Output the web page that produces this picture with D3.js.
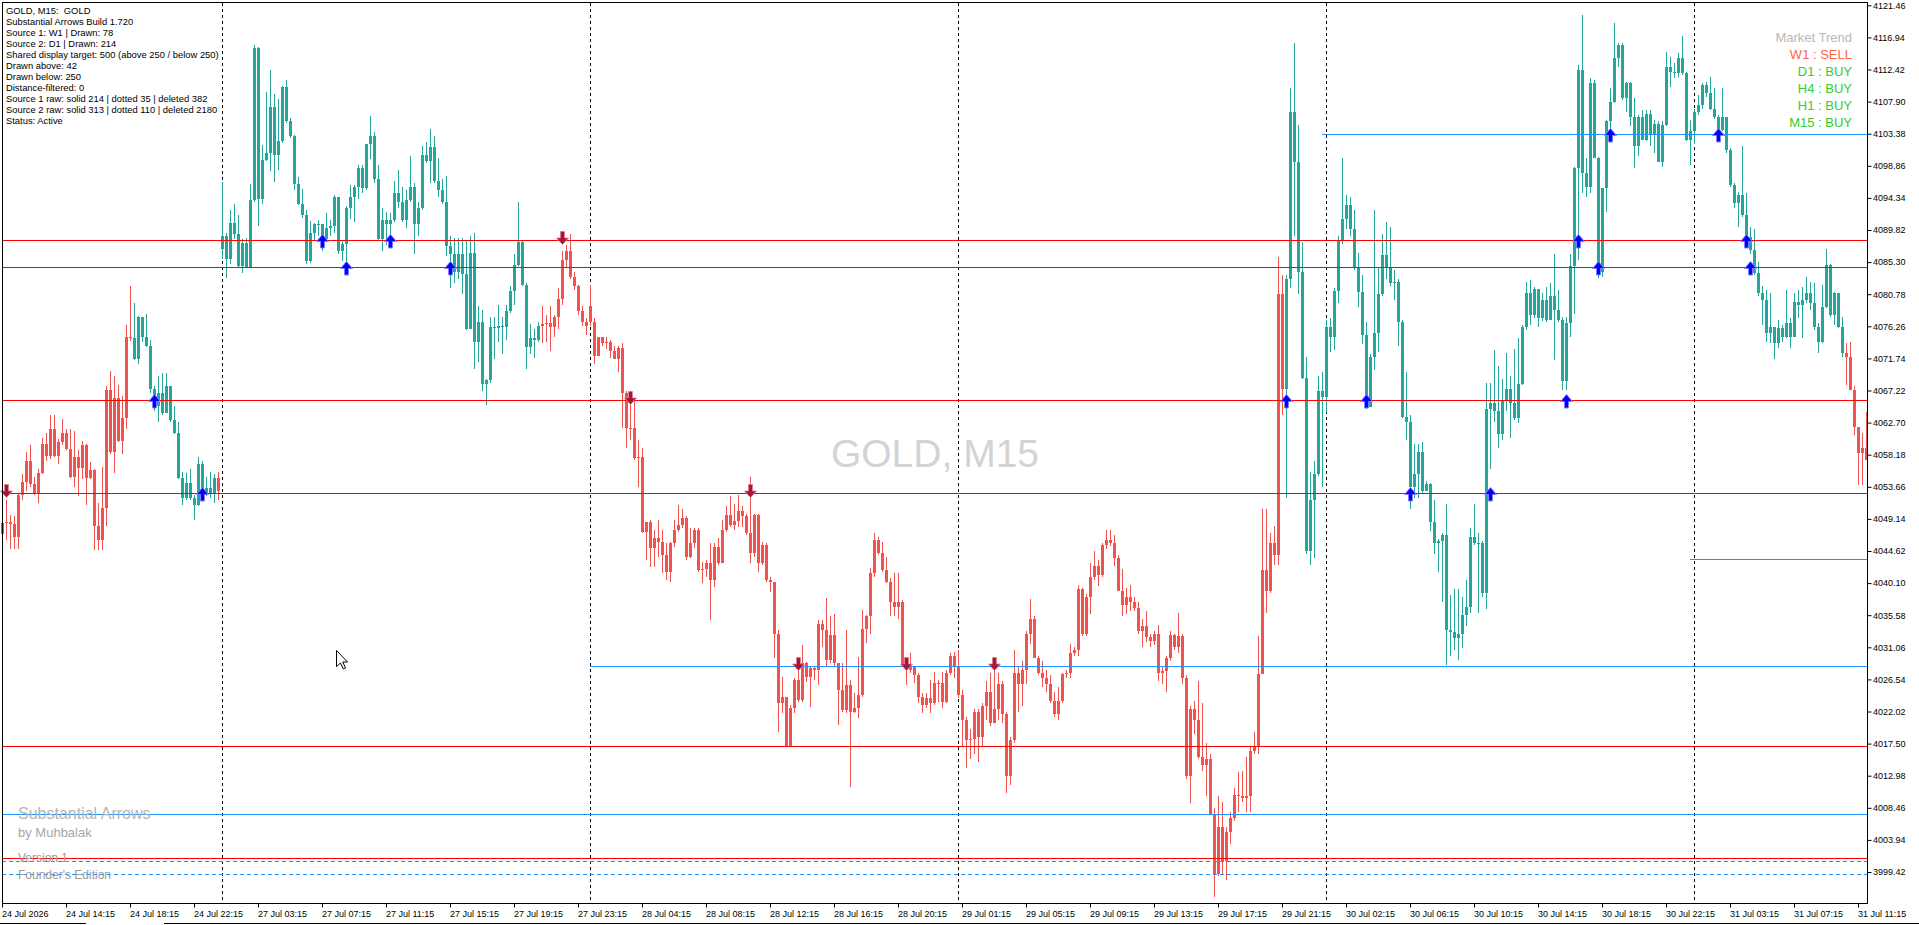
<!DOCTYPE html>
<html>
<head>
<meta charset="utf-8">
<script src="https://cdnjs.cloudflare.com/ajax/libs/d3/7.8.5/d3.min.js"></script>
<style>
  body { margin: 0; background: #fff; overflow: hidden; }
  svg { display: block; }
</style>
</head>
<body>
<div id="mainContainer"></div>
<script>
// GOLD M15 candles, bar 0 = 24 Jul 10:15, open = previous close unless listed in gapOpens
var closes = [
  4048.5,4048.7,4048.4,4046.6,4052.5,4054.4,4057.3,4054.0,4052.8,4055.6,
  4059.7,4058.0,4061.8,4058.0,4060.0,4061.3,4059.0,4055.1,4057.8,4056.3,
  4059.5,4054.9,4056.0,4048.1,4046.2,4050.7,4067.3,4058.5,4066.1,4060.1,
  4063.3,4074.7,4074.6,4071.6,4077.5,4074.7,4073.5,4067.5,4065.0,4066.8,
  4064.0,4067.8,4063.1,4061.3,4054.9,4052.1,4054.2,4052.1,4051.1,4056.9,
  4052.5,4053.5,4052.8,4054.9,4053.0,4089.0,4085.7,4090.8,4089.2,4084.7,
  4088.0,4084.6,4094.0,4115.4,4094.2,4099.7,4100.7,4107.1,4100.4,4102.3,
  4109.9,4105.1,4103.0,4096.3,4093.5,4091.9,4085.4,4089.4,4090.6,4090.7,
  4088.6,4090.1,4090.4,4094.4,4086.9,4087.9,4092.9,4094.4,4095.9,4098.5,
  4095.7,4102.0,4103.0,4097.0,4088.6,4091.2,4090.7,4091.2,4095.0,4093.7,
  4091.2,4094.0,4095.9,4090.7,4092.9,4100.4,4099.5,4101.5,4096.7,4095.5,
  4093.7,4087.5,4086.4,4083.9,4086.4,4083.6,4075.9,4086.6,4074.1,4076.9,
  4068.1,4068.7,4076.1,4076.0,4076.3,4076.1,4078.4,4081.3,4084.9,4088.2,
  4082.1,4073.3,4074.6,4074.4,4076.3,4076.6,4076.7,4076.1,4077.6,4080.1,
  4085.6,4086.9,4083.2,4081.9,4078.4,4076.9,4076.3,4076.9,4072.1,4074.8,
  4073.9,4074.1,4072.8,4071.7,4073.2,4066.8,4062.0,4061.9,4057.7,4057.8,
  4047.3,4048.7,4045.0,4046.4,4045.9,4044.1,4041.7,4045.7,4047.6,4048.3,
  4049.2,4043.8,4045.7,4047.6,4041.9,4042.1,4042.9,4040.5,4045.2,4042.9,
  4047.6,4049.7,4048.3,4048.8,4050.2,4049.5,4047.1,4044.3,4049.7,4042.9,
  4045.5,4040.5,4040.3,4033.0,4023.2,4024.1,4017.1,4022.5,4026.5,4023.6,
  4028.8,4026.9,4028.1,4027.9,4034.4,4033.5,4029.3,4032.8,4028.8,4025.1,
  4022.2,4025.8,4022.0,4022.5,4024.3,4033.7,4035.4,4041.5,4046.2,4044.3,
  4041.9,4040.3,4037.5,4036.8,4037.5,4028.6,4027.9,4028.4,4027.2,4024.1,
  4022.9,4023.9,4023.2,4026.0,4026.1,4023.4,4027.4,4029.9,4028.3,4024.3,
  4020.8,4018.0,4018.2,4022.0,4018.4,4022.8,4024.7,4020.4,4022.4,4025.9,
  4021.6,4012.9,4018.0,4027.5,4025.9,4027.9,4033.0,4035.0,4029.5,4027.5,
  4026.7,4025.9,4023.5,4021.6,4023.5,4027.3,4027.5,4030.3,4030.7,4039.3,
  4033.0,4038.2,4040.9,4042.5,4041.3,4045.4,4046.1,4045.7,4043.7,4039.0,
  4037.0,4038.2,4037.4,4036.6,4033.4,4034.1,4032.5,4032.0,4033.0,4027.5,
  4027.7,4029.5,4032.8,4031.1,4032.6,4026.7,4012.9,4022.4,4020.8,4015.6,
  4014.5,4015.3,4007.4,3999.1,4005.8,4001.0,4005.0,4007.0,4010.3,4010.1,
  4009.9,4010.1,4016.4,4017.0,4027.3,4042.0,4039.0,4045.7,4044.0,4080.8,
  4067.4,4082.9,4106.4,4099.4,4083.9,4069.0,4044.6,4051.8,4055.5,4067.1,
  4066.3,4076.2,4074.7,4081.2,4088.4,4091.4,4093.3,4090.0,4084.5,4081.1,
  4075.0,4064.9,4072.0,4075.3,4080.8,4086.3,4084.5,4082.3,4082.5,4076.8,
  4063.5,4062.8,4053.6,4055.5,4058.6,4053.0,4054.1,4048.7,4045.8,4046.0,
  4046.9,4033.5,4033.2,4032.3,4032.9,4035.6,4036.7,4046.6,4045.7,4045.8,
  4038.7,4064.6,4065.5,4064.3,4061.1,4065.9,4067.5,4065.4,4063.3,4068.2,
  4076.2,4080.9,4077.8,4081.5,4077.4,4079.9,4077.1,4080.5,4078.6,4077.1,
  4068.5,4076.7,4084.7,4098.5,4112.4,4097.8,4095.9,4110.5,4099.9,4083.9,
  4095.7,4105.1,4107.9,4114.0,4115.9,4108.4,4110.5,4105.8,4101.6,4105.8,
  4102.5,4106.2,4103.4,4104.8,4099.4,4104.6,4112.8,4112.1,4111.9,4114.0,
  4111.9,4102.5,4103.7,4106.5,4107.4,4110.2,4109.1,4106.9,4105.8,4103.9,
  4105.8,4101.1,4096.1,4093.6,4094.7,4091.9,4088.9,4087.0,4083.8,4081.0,
  4079.9,4075.3,4076.2,4073.9,4076.0,4074.8,4076.7,4074.8,4079.7,4079.3,
  4080.0,4080.9,4079.5,4076.2,4074.1,4079.0,4084.9,4077.8,4080.9,4076.2,
  4072.5,4072.0,4067.3,4062.1,4058.4,4059.1,4057.4
];
var highs = [
  4048.8,4051.8,4049.7,4049.5,4052.8,4055.4,4058.5,4059.5,4055.1,4056.1,
  4060.6,4061.3,4063.7,4063.7,4060.4,4063.2,4061.8,4061.8,4061.5,4058.8,
  4060.1,4059.7,4057.1,4056.1,4051.4,4056.5,4067.8,4069.9,4069.2,4068.0,
  4066.4,4076.5,4081.9,4079.6,4077.7,4077.5,4078.0,4074.3,4067.8,4069.2,
  4069.7,4069.7,4067.1,4065.0,4062.8,4055.8,4055.6,4056.1,4052.5,4057.8,
  4057.3,4055.1,4055.8,4055.4,4055.8,4096.6,4089.4,4092.6,4093.5,4091.9,
  4088.5,4088.7,4096.3,4115.9,4115.6,4101.8,4109.2,4112.3,4109.0,4108.3,
  4110.1,4110.9,4105.6,4103.2,4097.3,4095.6,4092.6,4091.1,4090.8,4091.2,
  4090.5,4092.2,4091.2,4094.7,4094.4,4088.4,4093.2,4096.2,4096.2,4099.0,
  4099.0,4102.0,4105.9,4103.6,4099.0,4092.9,4092.4,4092.2,4096.7,4098.2,
  4095.9,4095.5,4100.2,4096.5,4093.7,4101.7,4102.2,4104.0,4103.1,4100.0,
  4097.0,4097.4,4089.0,4088.7,4088.7,4088.7,4088.4,4089.0,4089.4,4079.1,
  4078.6,4068.8,4077.6,4077.6,4079.3,4077.6,4079.3,4081.9,4086.4,4093.7,
  4088.4,4082.4,4076.6,4075.9,4076.9,4079.1,4077.8,4079.1,4077.8,4081.7,
  4086.9,4087.7,4089.2,4083.9,4082.1,4079.1,4077.4,4082.1,4077.4,4074.8,
  4074.8,4074.8,4074.4,4073.5,4073.5,4073.9,4067.1,4067.1,4065.9,4060.3,
  4059.1,4048.7,4049.0,4047.6,4049.0,4047.6,4045.7,4045.9,4049.0,4051.1,
  4050.6,4049.5,4047.8,4047.8,4047.8,4043.1,4043.4,4045.7,4045.7,4046.4,
  4049.0,4050.9,4052.3,4051.3,4052.5,4050.9,4049.9,4055.1,4049.9,4049.9,
  4045.9,4045.7,4041.0,4040.3,4033.5,4026.9,4023.9,4022.9,4026.7,4028.8,
  4031.4,4029.0,4028.3,4028.3,4034.9,4034.9,4038.0,4035.4,4035.8,4028.8,
  4028.8,4033.5,4026.5,4024.6,4029.7,4036.3,4035.6,4042.2,4047.1,4046.6,
  4045.9,4043.8,4040.8,4041.5,4041.5,4037.7,4029.3,4030.2,4028.3,4027.4,
  4024.6,4024.6,4026.5,4027.6,4026.5,4027.6,4027.9,4030.3,4030.4,4030.7,
  4025.1,4021.2,4019.6,4022.4,4022.4,4023.2,4026.3,4027.5,4029.1,4027.5,
  4026.3,4022.0,4018.4,4030.7,4028.3,4029.1,4033.4,4037.8,4035.4,4029.9,
  4029.1,4027.9,4027.1,4024.7,4025.5,4027.5,4027.9,4031.5,4031.1,4039.8,
  4039.4,4038.6,4042.9,4044.6,4043.3,4045.7,4047.6,4047.6,4046.9,4044.1,
  4042.1,4039.4,4039.8,4038.2,4037.4,4035.0,4036.2,4033.0,4033.4,4034.2,
  4028.3,4029.9,4033.4,4033.0,4035.9,4033.0,4027.1,4022.8,4023.5,4026.3,
  4023.2,4017.6,4016.1,4008.5,4010.1,4009.3,4005.8,4007.8,4011.3,4013.5,
  4013.7,4015.6,4017.2,4019.2,4032.6,4050.6,4050.6,4047.2,4048.1,4086.0,
  4083.5,4083.5,4109.8,4116.2,4104.6,4088.1,4072.0,4055.8,4057.3,4069.2,
  4069.8,4077.1,4077.4,4081.7,4089.0,4100.0,4094.8,4094.4,4092.7,4086.6,
  4083.5,4076.8,4072.3,4092.7,4084.5,4089.3,4090.9,4090.3,4084.2,4082.9,
  4077.1,4069.8,4063.7,4059.7,4059.7,4060.0,4054.5,4054.2,4051.8,4046.3,
  4047.2,4051.2,4038.4,4039.3,4039.3,4038.1,4040.5,4047.8,4051.2,4047.2,
  4046.0,4068.3,4068.3,4072.9,4070.7,4068.9,4072.5,4069.2,4073.0,4074.6,
  4076.4,4082.5,4082.8,4081.8,4081.4,4081.0,4081.8,4082.3,4086.5,4081.4,
  4077.6,4077.6,4086.5,4098.7,4113.0,4120.1,4099.9,4111.2,4110.9,4100.1,
  4095.7,4105.3,4109.8,4118.9,4116.1,4116.1,4110.7,4110.7,4108.4,4106.0,
  4106.7,4106.7,4106.7,4105.3,4105.1,4105.1,4114.9,4114.2,4113.3,4114.7,
  4117.1,4112.1,4105.3,4106.9,4108.8,4110.5,4110.7,4111.4,4109.8,4106.0,
  4109.8,4105.8,4101.3,4096.4,4095.2,4101.6,4095.0,4090.3,4090.0,4085.3,
  4082.0,4081.4,4080.9,4076.2,4077.1,4076.4,4081.4,4077.4,4080.9,4081.4,
  4081.8,4083.2,4082.5,4082.3,4076.7,4082.1,4087.2,4085.1,4081.1,4080.0,
  4077.6,4073.9,4074.1,4067.8,4062.1,4061.2,4064.2
];
var lows = [
  4045.4,4046.1,4044.9,4044.9,4044.9,4051.8,4053.0,4053.7,4052.5,4051.4,
  4055.4,4057.3,4057.6,4057.8,4056.9,4059.5,4058.8,4054.9,4053.7,4052.3,
  4054.7,4051.1,4054.7,4044.7,4044.7,4044.7,4048.1,4058.3,4055.6,4059.9,
  4058.3,4061.8,4074.2,4071.5,4070.9,4074.0,4073.4,4066.8,4064.3,4062.8,
  4063.8,4066.1,4062.8,4061.1,4054.7,4051.1,4051.8,4051.8,4049.0,4051.0,
  4051.8,4052.3,4052.1,4051.4,4051.8,4085.7,4083.1,4085.0,4088.5,4084.5,
  4083.8,4084.5,4088.0,4093.7,4090.4,4093.5,4099.5,4098.1,4096.6,4098.3,
  4102.1,4104.9,4102.8,4095.4,4093.3,4091.5,4085.0,4085.2,4088.3,4089.0,
  4086.9,4089.0,4089.0,4089.4,4086.4,4085.4,4085.4,4091.4,4090.9,4094.2,
  4095.0,4095.5,4099.8,4096.5,4088.4,4086.9,4087.7,4087.7,4090.9,4092.9,
  4090.9,4090.1,4093.7,4086.4,4089.0,4092.7,4099.3,4096.5,4096.5,4094.4,
  4093.5,4086.2,4081.7,4082.4,4082.9,4080.8,4075.8,4075.9,4070.3,4071.3,
  4067.1,4065.2,4068.3,4071.6,4074.1,4072.4,4074.3,4078.1,4079.3,4084.7,
  4081.9,4070.3,4072.4,4071.8,4074.1,4073.9,4074.1,4072.8,4074.8,4075.9,
  4079.3,4084.4,4082.9,4081.4,4077.8,4076.3,4075.1,4076.3,4070.9,4072.1,
  4073.5,4073.1,4071.8,4071.6,4069.8,4061.9,4059.1,4060.3,4057.4,4053.7,
  4047.1,4043.4,4042.4,4042.4,4043.8,4041.5,4040.5,4040.3,4045.2,4047.3,
  4047.8,4043.4,4043.6,4045.0,4041.7,4040.1,4041.0,4034.9,4039.6,4042.7,
  4043.8,4047.3,4048.0,4047.6,4048.0,4048.0,4046.9,4042.9,4043.8,4041.7,
  4042.7,4040.3,4038.9,4029.5,4019.2,4021.8,4017.1,4017.1,4021.8,4023.4,
  4023.4,4026.2,4022.7,4026.5,4025.8,4031.1,4028.3,4028.8,4028.3,4020.1,
  4022.0,4021.8,4011.4,4021.8,4021.1,4024.1,4031.6,4033.0,4041.0,4044.1,
  4041.7,4040.1,4035.4,4035.4,4035.1,4028.3,4025.8,4027.4,4026.0,4023.2,
  4021.8,4022.5,4021.8,4022.9,4023.4,4022.5,4023.2,4027.1,4026.7,4023.9,
  4017.2,4014.1,4015.3,4016.1,4014.9,4017.2,4020.8,4020.0,4020.4,4020.8,
  4020.4,4010.5,4011.7,4017.6,4022.0,4022.8,4025.9,4031.5,4029.5,4027.1,
  4025.5,4024.7,4023.2,4021.2,4020.8,4023.2,4026.7,4026.7,4029.9,4029.9,
  4032.6,4032.6,4035.8,4040.5,4039.7,4040.9,4044.9,4045.3,4042.5,4039.0,
  4035.4,4035.8,4036.2,4036.2,4033.0,4031.1,4031.8,4031.1,4031.4,4026.3,
  4025.9,4024.7,4029.1,4030.7,4030.3,4025.9,4012.5,4009.1,4018.8,4015.3,
  4013.7,4010.1,4007.4,3995.9,3998.8,3999.1,3998.3,4003.4,4006.6,4007.8,
  4009.3,4007.8,4007.8,4016.1,4016.1,4027.4,4035.9,4038.7,4042.6,4042.6,
  4063.7,4052.1,4081.7,4089.0,4080.8,4068.9,4044.2,4042.6,4043.6,4055.2,
  4053.6,4064.0,4072.6,4072.9,4079.6,4087.8,4090.0,4089.0,4084.2,4079.0,
  4073.8,4064.6,4064.9,4070.1,4072.6,4080.5,4082.9,4082.0,4079.9,4073.5,
  4063.4,4060.3,4050.6,4052.1,4052.1,4052.7,4053.6,4047.5,4044.2,4041.7,
  4037.5,4028.5,4029.8,4030.7,4029.3,4031.0,4034.1,4035.9,4045.4,4035.9,
  4038.1,4036.5,4056.1,4062.8,4059.1,4060.2,4064.3,4060.5,4063.1,4062.6,
  4068.0,4075.8,4076.4,4077.4,4076.2,4077.0,4076.9,4078.5,4071.5,4076.9,
  4067.3,4067.3,4074.8,4078.0,4085.6,4095.0,4094.5,4095.0,4099.9,4083.0,
  4083.2,4092.4,4103.4,4107.7,4112.8,4108.1,4106.5,4104.4,4098.5,4100.2,
  4102.5,4102.3,4101.6,4100.6,4099.4,4098.7,4104.4,4110.0,4111.2,4111.4,
  4111.6,4102.3,4099.0,4102.0,4106.0,4106.9,4108.6,4106.7,4105.5,4102.5,
  4103.7,4100.6,4095.9,4092.9,4090.3,4091.7,4088.4,4086.5,4083.5,4080.5,
  4076.5,4074.1,4073.9,4071.7,4073.2,4074.1,4074.6,4073.2,4076.2,4077.4,
  4074.6,4079.5,4078.5,4075.7,4072.5,4073.9,4078.8,4077.6,4076.4,4076.0,
  4072.0,4068.0,4067.3,4060.9,4053.9,4053.9,4057.4
];
var gapOpens = new Map([[0, 4047.0], [55, 4087.1], [147, 4079.1]]);

// trend colouring of the candles (bar where each run starts)
var trendStarts = [0, 33, 54, 55, 135, 321, 461];
var trendSides = ["sell", "buy", "sell", "buy", "sell", "buy", "sell"];

var priceTicks = [4121.46,4116.94,4112.42,4107.90,4103.38,4098.86,4094.34,4089.82,4085.30,
  4080.78,4076.26,4071.74,4067.22,4062.70,4058.18,4053.66,4049.14,4044.62,4040.10,4035.58,
  4031.06,4026.54,4022.02,4017.50,4012.98,4008.46,4003.94,3999.42];
var timeTickBars = [0,16,32,48,64,80,96,112,128,144,160,176,192,208,224,240,256,272,288,304,
  320,336,352,368,384,400,416,432,448,464];
var timeLabels = ["24 Jul 2026","24 Jul 14:15","24 Jul 18:15","24 Jul 22:15","27 Jul 03:15",
  "27 Jul 07:15","27 Jul 11:15","27 Jul 15:15","27 Jul 19:15","27 Jul 23:15","28 Jul 04:15",
  "28 Jul 08:15","28 Jul 12:15","28 Jul 16:15","28 Jul 20:15","29 Jul 01:15","29 Jul 05:15",
  "29 Jul 09:15","29 Jul 13:15","29 Jul 17:15","29 Jul 21:15","30 Jul 02:15","30 Jul 06:15",
  "30 Jul 10:15","30 Jul 14:15","30 Jul 18:15","30 Jul 22:15","31 Jul 03:15","31 Jul 07:15",
  "31 Jul 11:15"];
var daySepBars = [55, 147, 239, 331, 423];

// levels drawn by the indicator
var redLevels = [4088.41, 4084.65, 4065.88, 4052.74, 4017.12, 4001.35];
var blueLevels = [4103.38, 4043.49, 4028.38, 4007.59];
var blueStartBars = [330, 422, 147, 0];
var blueDashedLevels = [4000.97, 3999.10];

var upArrowBars = [38, 50, 80, 86, 97, 112, 321, 341, 352, 372, 391, 394, 399, 402, 429, 436, 437];
var upArrowPrices = [4065.88, 4052.74, 4088.41, 4084.65, 4088.41, 4084.65, 4065.88, 4065.88, 4052.74,
  4052.74, 4065.88, 4088.41, 4084.65, 4103.38, 4103.38, 4088.41, 4084.65];
var downArrowBars = [1, 140, 157, 187, 199, 226, 248];
var downArrowPrices = [4052.74, 4088.41, 4065.88, 4052.74, 4028.38, 4028.38, 4028.38];

var infoLines = ["GOLD, M15:  GOLD", "Substantial Arrows Build 1.720", "Source 1: W1 | Drawn: 78",
  "Source 2: D1 | Drawn: 214", "Shared display target: 500 (above 250 / below 250)",
  "Drawn above: 42", "Drawn below: 250", "Distance-filtered: 0",
  "Source 1 raw: solid 214 | dotted 35 | deleted 382",
  "Source 2 raw: solid 313 | dotted 110 | deleted 2180", "Status: Active"];
var trendLabels = ["Market Trend", "W1 : SELL", "D1 : BUY", "H4 : BUY", "H1 : BUY", "M15 : BUY"];
var trendLabelSides = ["title", "sell", "buy", "buy", "buy", "buy"];
var brandLines = ["Substantial Arrows", "by Muhbalak", "Version 1", "Founder's Edition"];

var W = 1919, H = 925;
var plotRight = 1867, plotBottom = 903;
var upColor = "#26a69a", downColor = "#ef5350";
var axisFont = "'Liberation Sans', Arial, sans-serif";

var svg = d3.select("#mainContainer").append("svg")
    .attr("width", W)
    .attr("height", H)
    .style("background", "#fff");

var xscale = d3.scaleLinear().domain([0, 466]).range([2, 1866]);
var yscale = d3.scaleLinear().domain([3999.42, 4121.46]).range([872, 5.3]);

function sideOf(i) {
    return trendSides[d3.bisectRight(trendStarts, i) - 1];
}
function openOf(i) {
    if (gapOpens.has(i)) return gapOpens.get(i);
    return closes[i - 1];
}

// watermark
svg.append("text")
    .attr("x", 935)
    .attr("y", 467)
    .attr("text-anchor", "middle")
    .attr("font-family", axisFont)
    .attr("font-size", "39px")
    .attr("fill", "#d3d3d3")
    .text("GOLD, M15");

// day separators
svg.append("g").selectAll("line")
    .data(daySepBars)
    .enter().append("line")
    .attr("x1", function(d) { return Math.round(xscale(d)) + 0.5; })
    .attr("x2", function(d) { return Math.round(xscale(d)) + 0.5; })
    .attr("y1", 3)
    .attr("y2", plotBottom)
    .attr("stroke", "#000")
    .attr("stroke-width", 1)
    .attr("stroke-dasharray", "3,3");

// candles
var candles = svg.append("g");
closes.forEach(function(c, i) {
    var o = openOf(i);
    var cx = Math.round(xscale(i));
    var col = sideOf(i) === "buy" ? upColor : downColor;
    var top = Math.round(yscale(Math.max(o, c)));
    var bot = Math.round(yscale(Math.min(o, c)));
    var hi = Math.round(yscale(Math.max(highs[i], o, c)));
    var lo = Math.round(yscale(Math.min(lows[i], o, c)));
    candles.append("rect")
        .attr("x", cx)
        .attr("y", hi)
        .attr("width", 1)
        .attr("height", Math.max(1, lo - hi))
        .attr("fill", col);
    candles.append("rect")
        .attr("x", cx - 1)
        .attr("y", top)
        .attr("width", 3)
        .attr("height", Math.max(1, bot - top))
        .attr("fill", col);
});

// horizontal levels
var levels = svg.append("g");
redLevels.forEach(function(p) {
    var y = Math.round(yscale(p)) + 0.5;
    levels.append("line")
        .attr("x1", 2).attr("x2", plotRight)
        .attr("y1", y).attr("y2", y)
        .attr("stroke", "#ff0000").attr("stroke-width", 1);
});
blueLevels.forEach(function(p, i) {
    var y = Math.round(yscale(p)) + 0.5;
    levels.append("line")
        .attr("x1", blueStartBars[i] === 0 ? 2 : xscale(blueStartBars[i])).attr("x2", plotRight)
        .attr("y1", y).attr("y2", y)
        .attr("stroke", "#1e90ff").attr("stroke-width", 1);
});
blueDashedLevels.forEach(function(p) {
    var y = Math.round(yscale(p)) + 0.5;
    levels.append("line")
        .attr("x1", 2).attr("x2", plotRight)
        .attr("y1", y).attr("y2", y)
        .attr("stroke", "#1e90ff").attr("stroke-width", 1)
        .attr("stroke-dasharray", "4,3");
});

// arrows (wingdings-like, 12px wide)
var arrows = svg.append("g");
upArrowBars.forEach(function(b, i) {
    var cx = Math.round(xscale(b)) + 0.5;
    var y = Math.round(yscale(upArrowPrices[i]));
    arrows.append("path")
        .attr("d", "M" + (cx - 6) + "," + (y + 1.5) + "L" + cx + "," + (y - 5.5) + "L" + (cx + 6) + "," + (y + 1.5) +
            "L" + (cx + 2) + "," + (y + 1.5) + "L" + (cx + 2) + "," + (y + 8) + "L" + (cx - 2) + "," + (y + 8) +
            "L" + (cx - 2) + "," + (y + 1.5) + "Z")
        .attr("fill", "#0000ff")
        .attr("stroke", "#8080ff")
        .attr("stroke-width", 1)
        .attr("stroke-linejoin", "miter");
});
downArrowBars.forEach(function(b, i) {
    var cx = Math.round(xscale(b)) + 0.5;
    var y = Math.round(yscale(downArrowPrices[i]));
    arrows.append("path")
        .attr("d", "M" + (cx - 2) + "," + (y - 8.5) + "L" + (cx + 2) + "," + (y - 8.5) + "L" + (cx + 2) + "," + (y - 2) +
            "L" + (cx + 6) + "," + (y - 2) + "L" + cx + "," + (y + 4.5) + "L" + (cx - 6) + "," + (y - 2) +
            "L" + (cx - 2) + "," + (y - 2) + "Z")
        .attr("fill", "#a8143a")
        .attr("stroke", "#d9808f")
        .attr("stroke-width", 0.8);
});

// frame
svg.append("rect")
    .attr("x", 2.5).attr("y", 2.5)
    .attr("width", plotRight - 2)
    .attr("height", plotBottom - 2)
    .attr("fill", "none")
    .attr("stroke", "#000")
    .attr("stroke-width", 1);

// price axis
var yAxis = svg.append("g")
    .attr("transform", "translate(" + (plotRight + 0.5) + ",0)")
    .call(d3.axisRight(yscale).tickValues(priceTicks).tickSize(4).tickSizeOuter(0)
        .tickFormat(function(d) { return d.toFixed(2); }));
yAxis.select(".domain").remove();
yAxis.selectAll("text")
    .attr("x", 5.5)
    .attr("font-family", axisFont)
    .attr("font-size", "9px")
    .attr("fill", "#000");
yAxis.selectAll("line").attr("stroke", "#000");

// time axis
var xAxis = svg.append("g")
    .attr("transform", "translate(0," + (plotBottom + 0.5) + ")")
    .call(d3.axisBottom(xscale).tickValues(timeTickBars).tickSize(4).tickSizeOuter(0)
        .tickFormat(function(d, i) { return timeLabels[i]; }));
xAxis.select(".domain").remove();
xAxis.selectAll("text")
    .attr("text-anchor", "start")
    .attr("x", -0.5)
    .attr("font-family", axisFont)
    .attr("font-size", "9px")
    .attr("fill", "#000");
xAxis.selectAll("line").attr("stroke", "#000");

// window bottom edge
svg.append("line").attr("x1", 0).attr("x2", 86).attr("y1", 923.5).attr("y2", 923.5).attr("stroke", "#000");
svg.append("line").attr("x1", 164).attr("x2", W).attr("y1", 923.5).attr("y2", 923.5).attr("stroke", "#000");

// info block
svg.append("g").selectAll("text")
    .data(infoLines)
    .enter().append("text")
    .attr("x", 6)
    .attr("y", function(d, i) { return 14 + i * 11; })
    .attr("font-family", axisFont)
    .attr("font-size", "9.4px")
    .attr("fill", "#000")
    .style("white-space", "pre")
    .text(function(d) { return d; });

// market trend panel
var trendColor = { title: "#b8b8b8", sell: "#ff6347", buy: "#32cd32" };
svg.append("g").selectAll("text")
    .data(trendLabels)
    .enter().append("text")
    .attr("x", 1852)
    .attr("y", function(d, i) { return 42 + i * 17; })
    .attr("text-anchor", "end")
    .attr("font-family", axisFont)
    .attr("font-size", "13px")
    .attr("fill", function(d, i) { return trendColor[trendLabelSides[i]]; })
    .text(function(d) { return d; });

// branding bottom-left
var brandY = [819, 837, 861.5, 879];
var brandSize = ["16px", "13px", "12px", "12px"];
var brandFill = ["#b4b4b4", "#a6a6a6", "#9a9a9a", "#9a9a9a"];
svg.append("g").selectAll("text")
    .data(brandLines)
    .enter().append("text")
    .attr("x", 18)
    .attr("y", function(d, i) { return brandY[i]; })
    .attr("font-family", axisFont)
    .attr("font-size", function(d, i) { return brandSize[i]; })
    .attr("fill", function(d, i) { return brandFill[i]; })
    .text(function(d) { return d; });

// mouse pointer
svg.append("path")
    .attr("transform", "translate(336.5,650.5)")
    .attr("d", "M0,0L0,16L4,12.5L6.8,18.5L9,17.5L6.3,11.5L11,11.5Z")
    .attr("fill", "#fff")
    .attr("stroke", "#000")
    .attr("stroke-width", 1);
</script>
</body>
</html>
